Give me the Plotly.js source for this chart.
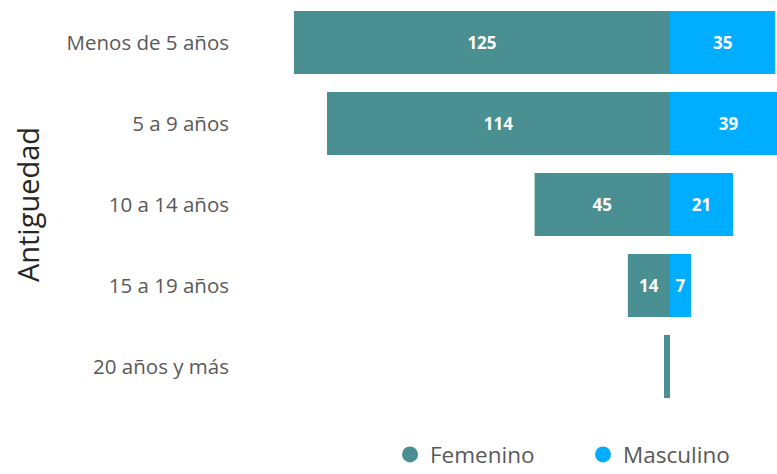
<!DOCTYPE html>
<html>
<head>
<meta charset="utf-8">
<script src="https://cdn.plot.ly/plotly-3.0.1.min.js"></script>
<style>html,body{margin:0;padding:0;background:#fff}#chart{width:777px;height:474px}</style>
</head>
<body>
<div id="chart"></div>
<script>
const categories = ["Menos de 5 años", "5 a 9 años", "10 a 14 años", "15 a 19 años", "20 años y más"];
const femenino = [125, 114, 45, 14, 2];
const masculino = [35, 39, 21, 7, 0];
const seriesNames = ["Femenino", "Masculino"];
const colors = ["#4a8f92", "#00adff"];

const label = v => (v >= 5 ? String(v) : "");

const common = {
  type: "bar",
  orientation: "h",
  y: categories,
  textposition: "inside",
  insidetextanchor: "middle",
  constraintext: "none",
  textfont: {family: "'Open Sans', sans-serif", size: 17, color: "#ffffff", weight: "bold"},
  hoverinfo: "skip",
  showlegend: false
};

const traces = [
  Object.assign({}, common, {
    name: seriesNames[0],
    x: femenino.map(v => -v),
    text: femenino.map(label),
    marker: {color: colors[0]}
  }),
  Object.assign({}, common, {
    name: seriesNames[1],
    x: masculino,
    text: masculino.map(label),
    marker: {color: colors[1]}
  }),
  {type: "scatter", mode: "markers", x: [null], y: [null], name: seriesNames[0],
   marker: {color: colors[0], size: 20, symbol: "circle"}, showlegend: true, hoverinfo: "skip"},
  {type: "scatter", mode: "markers", x: [null], y: [null], name: seriesNames[1],
   marker: {color: colors[1], size: 20, symbol: "circle"}, showlegend: true, hoverinfo: "skip"}
];

const layout = {
  width: 777,
  height: 474,
  margin: {l: 250, r: 0, t: 2, b: 67, autoexpand: false},
  barmode: "relative",
  bargap: 0.22,
  paper_bgcolor: "#ffffff",
  plot_bgcolor: "#ffffff",
  font: {family: "'Open Sans', sans-serif", color: "#595959"},
  xaxis: {
    range: [-139.6, 35.57],
    showticklabels: false,
    showgrid: false,
    zeroline: false,
    showline: false,
    ticks: "",
    fixedrange: true
  },
  yaxis: {
    type: "category",
    autorange: "reversed",
    showgrid: false,
    zeroline: false,
    showline: false,
    ticks: "",
    ticklabelstandoff: 20,
    tickfont: {size: 20.5, color: "#595959"},
    title: {text: "Antiguedad", font: {size: 29, color: "#262626"}, standoff: 18}
  },
  legend: {
    orientation: "h",
    x: (390 - 250) / 527,
    xanchor: "left",
    y: -0.171,
    yanchor: "bottom",
    font: {size: 22.5, color: "#595959"},
    entrywidth: 148,
    entrywidthmode: "pixels",
    itemclick: false,
    itemdoubleclick: false
  },
  showlegend: true
};

Plotly.newPlot("chart", traces, layout, {displayModeBar: false, staticPlot: true});
</script>
</body>
</html>
